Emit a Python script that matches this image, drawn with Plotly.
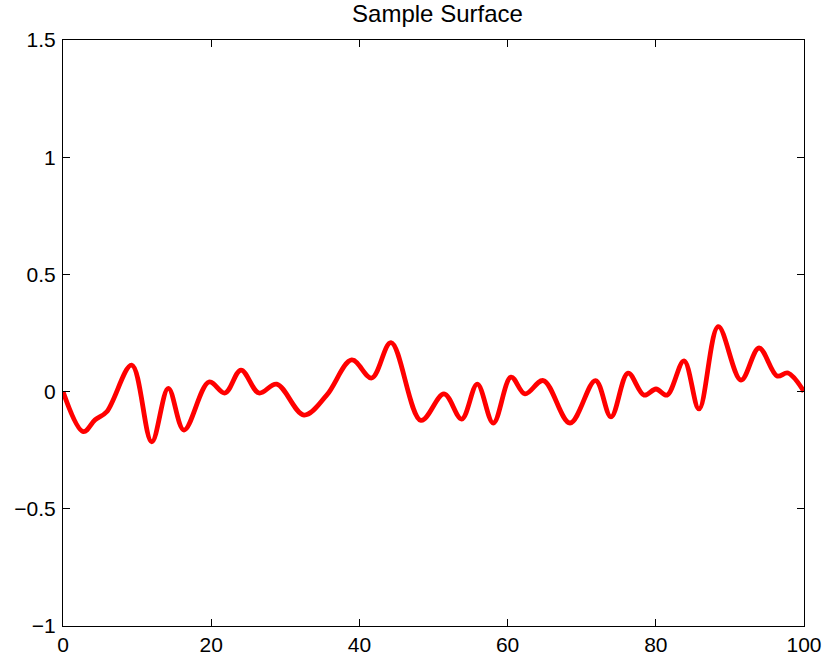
import plotly.graph_objects as go

x_vals = [0, 2.74, 4.32, 5.90, 9.27, 11.97, 14.21, 16.33, 19.70, 21.86, 24.02, 26.45,
          28.84, 32.52, 35.59, 38.96, 41.66, 44.26, 48.31, 51.42, 53.80, 55.91, 58.07,
          60.46, 62.35, 64.82, 68.42, 71.86, 73.95, 76.25, 78.41, 80.03, 81.51, 83.81,
          85.83, 88.43, 91.50, 93.93, 96.36, 97.84, 100]
y_vals = [0, -0.171, -0.121, -0.086, 0.113, -0.214, 0.014, -0.164, 0.041, -0.006, 0.092, -0.006,
          0.032, -0.100, -0.015, 0.135, 0.058, 0.209, -0.123, -0.010, -0.117, 0.032, -0.134,
          0.062, -0.010, 0.047, -0.134, 0.047, -0.108, 0.079, -0.015, 0.011, -0.015, 0.131,
          -0.074, 0.277, 0.049, 0.186, 0.067, 0.079, 0]

x_ticks = [0, 20, 40, 60, 80, 100]
y_ticks = [-1, -0.5, 0, 0.5, 1, 1.5]
y_tick_text = ["\u22121", "\u22120.5", "0", "0.5", "1", "1.5"]

font_family = "Liberation Sans, Arial, Helvetica, sans-serif"

fig = go.Figure()
fig.add_trace(go.Scatter(
    x=x_vals, y=y_vals, mode="lines",
    line=dict(color="#ff0000", width=4.8, shape="spline", smoothing=1.0),
    showlegend=False, hoverinfo="skip",
))

axis_common = dict(
    showgrid=False, zeroline=False, showline=True, linecolor="black", linewidth=1.2,
    mirror="ticks", ticks="inside", ticklen=7, tickwidth=1, tickcolor="black",
    tickfont=dict(family=font_family, size=21, color="black"),
    automargin=False,
)

fig.update_layout(
    width=827, height=660,
    margin=dict(l=63, r=23, t=40, b=34, autoexpand=False),
    paper_bgcolor="white", plot_bgcolor="white",
    title=dict(text="Sample Surface", x=0.529, xanchor="center", y=0.979, yanchor="middle",
               font=dict(family=font_family, size=24, color="black")),
    xaxis=dict(range=[0, 100], tickvals=x_ticks, ticktext=[str(t) for t in x_ticks],
               ticklabelstandoff=0, **axis_common),
    yaxis=dict(range=[-1, 1.5], tickvals=y_ticks, ticktext=y_tick_text,
               ticklabelstandoff=2, **axis_common),
)

fig.write_html("out.html")
